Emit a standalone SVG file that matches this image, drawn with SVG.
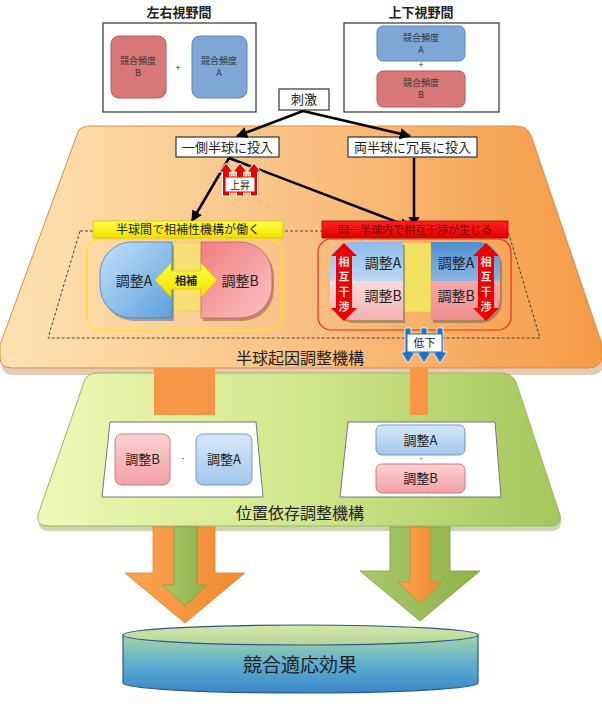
<svg xmlns="http://www.w3.org/2000/svg" width="602" height="709" viewBox="0 0 602 709">
<defs>
<style>
text{font-family:"Noto Sans CJK JP","Noto Sans",sans-serif;fill:#222;text-anchor:middle}
.title{font-size:13px;font-weight:bold}
.small{font-size:9px;fill:#333}
.box{fill:#fff;stroke:#333;stroke-width:1.2}
.wbox{fill:#fff;stroke:#777;stroke-width:1}
.conn{stroke:#000;stroke-width:2.5;fill:none}
.lbl{font-size:13px}
.adj{font-size:14px}
.gn{font-size:13px}
</style>
<linearGradient id="gOrange" x1="0" y1="0" x2="1" y2="0">
<stop offset="0" stop-color="#fde3b3"/><stop offset="0.5" stop-color="#f9c183"/><stop offset="1" stop-color="#f59a45"/>
</linearGradient>
<linearGradient id="gGreen" x1="0" y1="0" x2="1" y2="0">
<stop offset="0" stop-color="#eef8b8"/><stop offset="0.5" stop-color="#d2e78c"/><stop offset="1" stop-color="#a5c65c"/>
</linearGradient>
<linearGradient id="gBlueD" x1="0" y1="0" x2="1" y2="1">
<stop offset="0" stop-color="#c4e2fa"/><stop offset="1" stop-color="#5d9fdc"/>
</linearGradient>
<linearGradient id="gPinkD" x1="0" y1="0" x2="1" y2="1">
<stop offset="0" stop-color="#f07d80"/><stop offset="1" stop-color="#fbc3c3"/>
</linearGradient>
<linearGradient id="gBlueS" x1="0" y1="0" x2="0" y2="1">
<stop offset="0" stop-color="#8fbce9"/><stop offset="1" stop-color="#bcd8f3"/>
</linearGradient>
<linearGradient id="gBlueS2" x1="0" y1="0" x2="0" y2="1">
<stop offset="0" stop-color="#4f8fd0"/><stop offset="1" stop-color="#8ab6e6"/>
</linearGradient>
<linearGradient id="gPinkS" x1="0" y1="0" x2="0" y2="1">
<stop offset="0" stop-color="#fbdada"/><stop offset="1" stop-color="#f4b0b2"/>
</linearGradient>
<linearGradient id="gPinkS2" x1="0" y1="0" x2="0" y2="1">
<stop offset="0" stop-color="#f5a9ab"/><stop offset="1" stop-color="#ee8e90"/>
</linearGradient>
<linearGradient id="gPinkN" x1="0" y1="0" x2="0" y2="1">
<stop offset="0" stop-color="#fbd0d2"/><stop offset="1" stop-color="#f2a1a6"/>
</linearGradient>
<linearGradient id="gBlueN" x1="0" y1="0" x2="0" y2="1">
<stop offset="0" stop-color="#d6e8f9"/><stop offset="1" stop-color="#a3c6ec"/>
</linearGradient>
<linearGradient id="gYel" x1="0" y1="0" x2="0" y2="1">
<stop offset="0" stop-color="#ffff40"/><stop offset="1" stop-color="#f0e000"/>
</linearGradient>
<linearGradient id="gRed" x1="0" y1="0" x2="0" y2="1">
<stop offset="0" stop-color="#ff2020"/><stop offset="1" stop-color="#e00000"/>
</linearGradient>
<linearGradient id="gArrO" x1="0" y1="0" x2="1" y2="0">
<stop offset="0" stop-color="#f8a452"/><stop offset="1" stop-color="#f28a30"/>
</linearGradient>
<linearGradient id="gArrG" x1="0" y1="0" x2="1" y2="0">
<stop offset="0" stop-color="#a8c86a"/><stop offset="1" stop-color="#8fb24a"/>
</linearGradient>
<linearGradient id="gCylTop" x1="0" y1="0" x2="0" y2="1">
<stop offset="0" stop-color="#d6e6a8"/><stop offset="1" stop-color="#b6d49a"/>
</linearGradient>
<linearGradient id="gCyl" x1="0" y1="0" x2="0" y2="1">
<stop offset="0" stop-color="#a9d6a6"/><stop offset="0.5" stop-color="#5eaed0"/><stop offset="1" stop-color="#3a86c8"/>
</linearGradient>
<marker id="ah" viewBox="0 0 10 10" refX="9" refY="5" markerWidth="4.5" markerHeight="4.5" orient="auto-start-reverse">
<path d="M0,0 L10,5 L0,10 Z" fill="#000"/>
</marker>
</defs>

<!-- titles and top boxes -->
<g id="leftField">
<text class="title" x="179" y="17">左右視野間</text>
<rect class="box" x="103" y="23" width="153" height="89"/>
<rect x="111" y="36" width="55" height="62" rx="8" fill="#d87878" stroke="#b85858"/>
<text class="small" x="138" y="64">競合頻度</text><text class="small" x="138" y="76">B</text>
<text class="small" x="178" y="71">+</text>
<rect x="192" y="36" width="55" height="62" rx="8" fill="#7fa7d6" stroke="#5a86bb"/>
<text class="small" x="219" y="64">競合頻度</text><text class="small" x="219" y="76">A</text>
</g>
<g id="vertField">
<text class="title" x="421" y="17">上下視野間</text>
<rect class="box" x="344" y="23" width="155" height="89"/>
<rect x="377" y="26" width="88" height="35" rx="6" fill="#7fa7d6" stroke="#5a86bb"/>
<text class="small" x="421" y="41">競合頻度</text><text class="small" x="421" y="53">A</text>
<text class="small" x="421" y="68">+</text>
<rect x="377" y="71" width="88" height="36" rx="6" fill="#d87878" stroke="#b85858"/>
<text class="small" x="421" y="86">競合頻度</text><text class="small" x="421" y="98">B</text>
</g>

<!-- orange trapezoid -->
<g id="hemiMech">
<path d="M78,132 Q80,126 92,126 L516,126 Q528,126 531,136 L602,345 L602,362 Q600,372 588,372 L12,372 Q0,372 0,362 L0,345 Z" fill="#b06a30" opacity="0.35" transform="translate(2,3)"/>
<path d="M78,132 Q80,126 92,126 L516,126 Q528,126 531,136 L602,345 L602,358 Q600,368 588,368 L12,368 Q0,368 0,358 L0,345 Z" fill="url(#gOrange)" stroke="#e08a40" stroke-width="1"/>
<text x="300" y="364" style="font-size:16px">半球起因調整機構</text>
</g>

<!-- green trapezoid -->
<g id="posMech">
<path d="M84,382 Q86,373 98,373 L500,373 Q512,373 516,382 L560,515 Q562,528 550,528 L48,528 Q36,528 38,515 Z" fill="#6a8a30" opacity="0.35" transform="translate(1,3)"/>
<path d="M84,382 Q86,373 98,373 L500,373 Q512,373 516,382 L560,515 Q562,526 550,526 L48,526 Q36,526 38,515 Z" fill="url(#gGreen)" stroke="#9ab85a" stroke-width="1"/>
<text x="300" y="519" style="font-size:16px">位置依存調整機構</text>
</g>

<!-- orange connector bars -->
<g id="bars">
<rect x="154" y="368" width="61" height="47" fill="#f79646"/>
<rect x="410" y="368" width="18" height="47" fill="#f79646"/>
</g>

<!-- dashed frame -->
<path d="M80,231 L508,231 L540,338 L48,338 Z" fill="none" stroke="#444" stroke-width="1" stroke-dasharray="3,2"/>

<!-- stimulus nodes -->
<g id="stim">
<rect class="box" x="279" y="89" width="50" height="21" stroke="#999"/>
<text class="lbl" x="304" y="104">刺激</text>
</g>
<g id="oneSide">
<rect class="box" x="176" y="137" width="103" height="20" stroke="#999"/>
<text class="lbl" x="227.5" y="152">一側半球に投入</text>
</g>
<g id="bothSide">
<rect class="box" x="348" y="137" width="129" height="20" stroke="#999"/>
<text class="lbl" x="412.5" y="152">両半球に冗長に投入</text>
</g>

<!-- connectors -->
<g id="connectors">
<line class="conn" x1="303" y1="111" x2="237" y2="136" marker-end="url(#ah)"/>
<line class="conn" x1="303" y1="111" x2="410" y2="136" marker-end="url(#ah)"/>
<line class="conn" x1="229" y1="158" x2="192" y2="221" marker-end="url(#ah)"/>
<line class="conn" x1="229" y1="158" x2="410" y2="227" marker-end="url(#ah)"/>
<line class="conn" x1="414" y1="158" x2="414" y2="227" marker-end="url(#ah)"/>
</g>

<!-- rise arrows -->
<g id="rise">
<g fill="#ee0000" stroke="#fff" stroke-width="1">
<path d="M226,163 L233,172 L229.5,172 L229.5,196 L222.5,196 L222.5,172 L219,172 Z"/>
<path d="M240,163 L247,172 L243.5,172 L243.5,196 L236.5,196 L236.5,172 L233,172 Z"/>
<path d="M254,163 L261,172 L257.5,172 L257.5,196 L250.5,196 L250.5,172 L247,172 Z"/>
</g>
<rect x="225" y="177" width="30" height="15" fill="#fff" stroke="#e00000"/>
<text x="240" y="189" style="font-size:10px">上昇</text>
</g>

<!-- left group -->
<g id="complement">
<rect x="87" y="239" width="195" height="91" rx="13" fill="none" stroke="#ffe030" stroke-width="1.5"/>
<rect x="172" y="243" width="30" height="68" fill="#f7df73" stroke="#e6c74a" stroke-width="0.5"/>
<path d="M172,242 L132,242 A32,32 0 0 0 100,274 L100,286 A32,32 0 0 0 132,318 L172,318 Z" fill="#4a6c90" transform="translate(2,3)" opacity="0.5"/>
<path d="M172,242 L132,242 A32,32 0 0 0 100,274 L100,286 A32,32 0 0 0 132,318 L172,318 Z" fill="url(#gBlueD)" stroke="#4a82c0" stroke-width="0.8"/>
<path d="M201,242 L240,242 A32,32 0 0 1 272,274 L272,286 A32,32 0 0 1 240,318 L201,318 Z" fill="#8a4a4a" transform="translate(2,3)" opacity="0.5"/>
<path d="M201,242 L240,242 A32,32 0 0 1 272,274 L272,286 A32,32 0 0 1 240,318 L201,318 Z" fill="url(#gPinkD)" stroke="#c86060" stroke-width="0.8"/>
<text class="adj" x="134" y="286">調整A</text>
<text class="adj" x="240" y="286">調整B</text>
<path d="M155,280 L171,263 L171,271 L201,271 L201,263 L217,280 L201,297 L201,289 L171,289 L171,297 Z" fill="url(#gYel)" stroke="#e8d000" stroke-width="0.8"/>
<text x="186" y="285" style="font-size:11px;font-weight:bold">相補</text>
<rect x="93" y="221" width="190" height="17" fill="url(#gYel)" stroke="#d8c800" stroke-width="0.8"/>
<text x="188" y="234" style="font-size:12px">半球間で相補性機構が働く</text>
</g>

<!-- right group -->
<g id="interfere">
<rect x="318" y="239" width="193" height="91" rx="13" fill="none" stroke="#e83020" stroke-width="1.2"/>
<rect x="403" y="243" width="28" height="69" fill="#f2e060" stroke="#d8c040" stroke-width="0.5"/>
<path d="M403,242 L352,242 A22,22 0 0 0 330,264 L330,298 A22,22 0 0 0 352,320 L403,320 Z" fill="#555" opacity="0.45" transform="translate(2,3)"/>
<path d="M403,242 L352,242 A22,22 0 0 0 330,264 L330,281 L403,281 Z" fill="url(#gBlueS)"/>
<path d="M330,281 L403,281 L403,320 L352,320 A22,22 0 0 1 330,298 Z" fill="url(#gPinkS)"/>
<path d="M431,242 L478,242 A22,22 0 0 1 500,264 L500,298 A22,22 0 0 1 478,320 L431,320 Z" fill="#555" opacity="0.45" transform="translate(2,3)"/>
<path d="M431,242 L478,242 A22,22 0 0 1 500,264 L500,281 L431,281 Z" fill="url(#gBlueS2)"/>
<path d="M431,281 L500,281 L500,298 A22,22 0 0 1 478,320 L431,320 Z" fill="url(#gPinkS2)"/>
<text class="adj" x="383" y="268">調整A</text>
<text class="adj" x="383" y="301">調整B</text>
<text class="adj" x="456" y="268">調整A</text>
<text class="adj" x="456" y="301">調整B</text>
<path d="M344,243 L357,256 L352,256 L352,308 L357,308 L344,321 L331,308 L336,308 L336,256 L331,256 Z" fill="#ee0000"/>
<path d="M486,243 L499,256 L494,256 L494,308 L499,308 L486,321 L473,308 L478,308 L478,256 L473,256 Z" fill="#ee0000"/>
<g style="font-size:11px;font-weight:bold">
<text x="344" y="266" style="fill:#ffe0e0">相</text><text x="344" y="281" style="fill:#ffe0e0">互</text><text x="344" y="296" style="fill:#ffe0e0">干</text><text x="344" y="311" style="fill:#ffe0e0">渉</text>
<text x="486" y="266" style="fill:#ffe0e0">相</text><text x="486" y="281" style="fill:#ffe0e0">互</text><text x="486" y="296" style="fill:#ffe0e0">干</text><text x="486" y="311" style="fill:#ffe0e0">渉</text>
</g>
<rect x="322" y="221" width="186" height="17" fill="url(#gRed)" stroke="#b00000" stroke-width="0.8"/>
<text x="415" y="234" style="font-size:11px;fill:#7a0000">同一半球内で相互干渉が生じる</text>
</g>

<!-- decrease arrows -->
<g id="fall">
<g fill="#1f72c8" stroke="#fff" stroke-width="0.8">
<path d="M405,328 L411,328 L411,352 L415,352 L408,363 L401,352 L405,352 Z"/>
<path d="M421,328 L427,328 L427,352 L431,352 L424,363 L417,352 L421,352 Z"/>
<path d="M437,328 L443,328 L443,352 L447,352 L440,363 L433,352 L437,352 Z"/>
</g>
<rect x="407" y="334" width="35" height="18" fill="#fff" stroke="#1f72c8"/>
<text x="424.5" y="347" style="font-size:11px">低下</text>
</g>

<!-- green inner boxes -->
<g id="posLR">
<path class="wbox" d="M110,422 L256,422 L263,497 L102,497 Z"/>
<rect x="115" y="434" width="55" height="51" rx="7" fill="url(#gPinkN)" stroke="#c87c84"/>
<text class="gn" x="142.5" y="464">調整B</text>
<text x="183" y="461" style="font-size:6px">・</text>
<rect x="196" y="434" width="56" height="51" rx="7" fill="url(#gBlueN)" stroke="#6d9acb"/>
<text class="gn" x="224" y="464">調整A</text>
</g>
<g id="posUD">
<path class="wbox" d="M348,422 L495,422 L501,497 L340,497 Z"/>
<rect x="376" y="425" width="89" height="30" rx="6" fill="url(#gBlueN)" stroke="#6d9acb"/>
<text class="gn" x="420.5" y="445">調整A</text>
<text x="421" y="461" style="font-size:6px">・</text>
<rect x="376" y="464" width="89" height="29" rx="6" fill="url(#gPinkN)" stroke="#c87c84"/>
<text class="gn" x="420.5" y="483">調整B</text>
</g>

<!-- big arrows -->
<g id="arrowLeft">
<path d="M153,527 L215,527 L215,573 L245,573 L185,623 L125,573 L153,573 Z" fill="url(#gArrO)" stroke="#e08030" stroke-width="0.8"/>
<path d="M174,527 L197,527 L197,585 L207,585 L185,606 L163,585 L174,585 Z" fill="url(#gArrG)" stroke="#809f40" stroke-width="0.8"/>
</g>
<g id="arrowRight">
<path d="M390,527 L450,527 L450,571 L480,571 L420,621 L360,571 L390,571 Z" fill="url(#gArrG)" stroke="#809f40" stroke-width="0.8"/>
<path d="M410,527 L430,527 L430,582 L442,582 L420,603 L398,582 L410,582 Z" fill="url(#gArrO)" stroke="#e08030" stroke-width="0.8"/>
</g>

<!-- cylinder -->
<g id="effect">
<path d="M123,635 L123,683 A177.5,10 0 0 0 478,683 L478,635 Z" fill="url(#gCyl)" stroke="#2a5a8a" stroke-width="1.2"/>
<ellipse cx="300.5" cy="635" rx="177.5" ry="10" fill="url(#gCylTop)" stroke="#2a5a8a" stroke-width="1.2"/>
<text x="300" y="672" style="font-size:19px">競合適応効果</text>
</g>
</svg>
